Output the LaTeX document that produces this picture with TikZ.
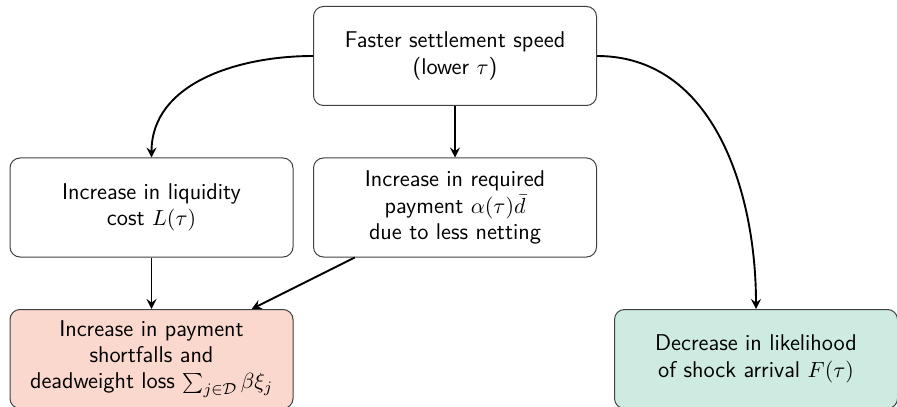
\documentclass[tikz,border=0pt]{standalone}
\usetikzlibrary{arrows.meta}
\definecolor{salmonfill}{RGB}{251,216,206}
\definecolor{mintfill}{RGB}{205,235,225}
\begin{document}
\begin{tikzpicture}[x=0.5pt,y=-0.5pt,
  box/.style={draw=black!75, line width=0.5pt, rounded corners=5pt,
    minimum width=141.5pt, minimum height=49.5pt, align=center,
    font=\sffamily\fontsize{11.4}{13.2}\selectfont, inner sep=2pt},
  conn/.style={line width=0.95pt, -{Stealth[length=5pt,width=5pt,inset=1.8pt]}}]
\useasboundingbox (0,0) rectangle (897,406);
\clip (0,0) rectangle (897,406);
\node[box] (top) at (455,56) {Faster settlement speed\\(lower $\tau$)};
\node[box] (liq) at (151.5,207.5) {Increase in liquidity\\cost $L(\tau)$};
\node[box] (req) at (455,207.5) {Increase in required\\payment $\alpha(\tau)\bar{d}$\\due to less netting};
\node[box, fill=salmonfill] (loss) at (151.5,359) {Increase in payment\\shortfalls and\\deadweight loss $\sum_{j\in\mathcal{D}}\beta\xi_j$};
\node[box, fill=mintfill] (shock) at (756,359) {Decrease in likelihood\\of shock arrival $F(\tau)$};
\draw[conn] (top.west) to[out=180,in=90] (liq.north);
\draw[conn] (top.south) -- (req.north);
\draw[conn] (top.east) to[out=0,in=90] (shock.north);
\draw[conn] (liq.south) -- (loss.north);
\draw[conn] (req) -- (loss);
\end{tikzpicture}
\end{document}
